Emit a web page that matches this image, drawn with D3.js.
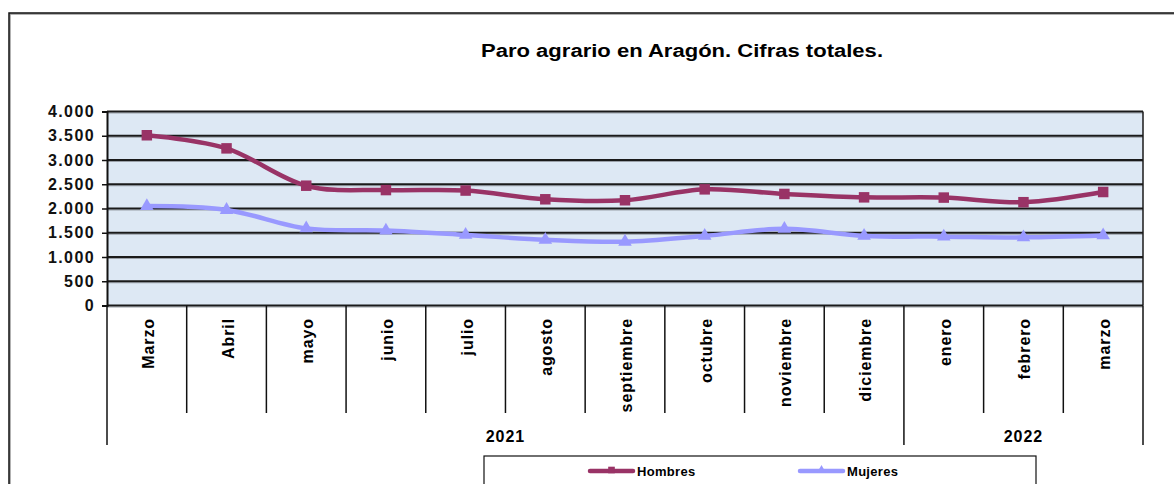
<!DOCTYPE html>
<html>
<head>
<meta charset="utf-8">
<script src="https://cdn.jsdelivr.net/npm/d3@7"></script>
<style>
  body { margin: 0; background: #fff; }
  svg { display: block; font-family: Arial, "Liberation Sans", sans-serif; }
</style>
</head>
<body>
<div id="chart"></div>
<script>
// Data
const months = ["Marzo", "Abril", "mayo", "junio", "julio", "agosto", "septiembre",
  "octubre", "noviembre", "diciembre", "enero", "febrero", "marzo"];
const years = [{ label: "2021", from: 0, to: 10 }, { label: "2022", from: 10, to: 13 }];
const hombres = [3510, 3240, 2470, 2380, 2370, 2190, 2170, 2395, 2300, 2230, 2225, 2130, 2340];
const mujeres = [2050, 1970, 1590, 1545, 1455, 1355, 1315, 1435, 1580, 1435, 1420, 1405, 1445];
const yTicks = [0, 500, 1000, 1500, 2000, 2500, 3000, 3500, 4000];

const width = 1174, height = 484;
const plot = { left: 107, right: 1143, top: 111.5, bottom: 305.5 };

const svg = d3.select("#chart").append("svg")
  .attr("width", width)
  .attr("height", height);

// outer chart frame (with a soft shadow line like the original)
svg.append("rect")
  .attr("x", 10).attr("y", 14)
  .attr("width", 1200).attr("height", 600)
  .attr("fill", "none")
  .attr("stroke", "#999")
  .attr("stroke-width", 1.5);
svg.append("rect")
  .attr("x", 9).attr("y", 13)
  .attr("width", 1200).attr("height", 600)
  .attr("fill", "none")
  .attr("stroke", "#111")
  .attr("stroke-width", 1.5);

// title
svg.append("text")
  .attr("x", 682).attr("y", 57)
  .attr("text-anchor", "middle")
  .attr("font-size", 18).attr("font-weight", "bold")
  .attr("textLength", 402).attr("lengthAdjust", "spacingAndGlyphs")
  .text("Paro agrario en Aragón. Cifras totales.");

const x = d3.scaleBand().domain(d3.range(months.length)).range([plot.left, plot.right]);
const y = d3.scaleLinear().domain([0, 4000]).range([plot.bottom, plot.top]);

// plot background
svg.append("rect")
  .attr("x", plot.left).attr("y", plot.top)
  .attr("width", plot.right - plot.left).attr("height", plot.bottom - plot.top)
  .attr("fill", "#dde8f4");

// gridlines
const grid = svg.append("g");
grid.selectAll("line.shadow")
  .data(yTicks)
  .join("line")
  .attr("class", "shadow")
  .attr("x1", plot.left).attr("x2", plot.right)
  .attr("y1", (d) => y(d) + 1.5).attr("y2", (d) => y(d) + 1.5)
  .attr("stroke", "#9aa0a8")
  .attr("stroke-width", 1);
grid.selectAll("line.grid")
  .data(yTicks)
  .join("line")
  .attr("class", "grid")
  .attr("x1", plot.left).attr("x2", plot.right)
  .attr("y1", (d) => y(d)).attr("y2", (d) => y(d))
  .attr("stroke", "#1a1a1a")
  .attr("stroke-width", 1.8);

// right border of plot
svg.append("line")
  .attr("x1", plot.right).attr("x2", plot.right)
  .attr("y1", plot.top).attr("y2", plot.bottom)
  .attr("stroke", "#1a1a1a").attr("stroke-width", 1.5);

// y axis
const yAxis = svg.append("g")
  .attr("transform", `translate(${plot.left},0)`)
  .call(d3.axisLeft(y).tickValues(yTicks).tickSize(5).tickPadding(7)
    .tickFormat((d) => d3.format(",")(d).replace(/,/g, ".")));
yAxis.select(".domain").attr("stroke", "#111").attr("stroke-width", 2);
yAxis.selectAll(".tick line").attr("stroke", "#111").attr("stroke-width", 1.5);
yAxis.selectAll("text")
  .attr("font-size", 16).attr("font-weight", "bold")
  .attr("letter-spacing", 1.4)
  .attr("font-family", "Arial, 'Liberation Sans', sans-serif")
  .attr("fill", "#111");

// x category separators
const xg = svg.append("g");
const bounds = d3.range(months.length + 1);
const yearEdges = new Set([0].concat(years.map((d) => d.to)));
xg.selectAll("line")
  .data(bounds)
  .join("line")
  .attr("x1", (i) => (i < months.length ? x(i) : plot.right))
  .attr("x2", (i) => (i < months.length ? x(i) : plot.right))
  .attr("y1", plot.bottom)
  .attr("y2", (i) => (yearEdges.has(i) ? 445 : 413))
  .attr("stroke", "#111")
  .attr("stroke-width", 1.5);

// month labels
xg.selectAll("text.month")
  .data(months)
  .join("text")
  .attr("class", "month")
  .attr("transform", (d, i) => `translate(${x(i) + x.bandwidth() / 2 + 7},318) rotate(-90)`)
  .attr("text-anchor", "end")
  .attr("font-size", 16).attr("font-weight", "bold")
  .attr("letter-spacing", 0.9)
  .text((d) => d);

// year labels
xg.selectAll("text.year")
  .data(years)
  .join("text")
  .attr("class", "year")
  .attr("x", (d) => ((d.from === 0 ? plot.left : x(d.from)) + (d.to < months.length ? x(d.to) : plot.right)) / 2)
  .attr("y", 442)
  .attr("text-anchor", "middle")
  .attr("font-size", 16).attr("font-weight", "bold")
  .attr("letter-spacing", 1)
  .text((d) => d.label);

// lines
const line = d3.line()
  .x((d, i) => x(i) + x.bandwidth() / 2)
  .y((d) => y(d))
  .curve(d3.curveCatmullRom.alpha(0));

const series = [
  { name: "Hombres", values: hombres, color: "#993366", marker: d3.symbolSquare, size: 110 },
  { name: "Mujeres", values: mujeres, color: "#9999ff", marker: d3.symbolTriangle, size: 80 }
];

series.forEach((s) => {
  svg.append("path")
    .datum(s.values)
    .attr("d", line)
    .attr("fill", "none")
    .attr("stroke", s.color)
    .attr("stroke-width", 4.5)
    .attr("stroke-linejoin", "round");
  svg.append("g").selectAll("path")
    .data(s.values)
    .join("path")
    .attr("transform", (d, i) => `translate(${x(i) + x.bandwidth() / 2},${y(d)})`)
    .attr("d", d3.symbol().type(s.marker).size(s.size))
    .attr("fill", s.color);
});

// legend
const legend = svg.append("g");
legend.append("rect")
  .attr("x", 484).attr("y", 456)
  .attr("width", 552).attr("height", 60)
  .attr("fill", "#fff")
  .attr("stroke", "#111").attr("stroke-width", 1.2);
const legendX = [590, 800];
series.forEach((s, i) => {
  const lg = legend.append("g").attr("transform", `translate(${legendX[i]},471)`);
  lg.append("line")
    .attr("x1", 0).attr("x2", 43)
    .attr("stroke", s.color).attr("stroke-width", 4.5)
    .attr("stroke-linecap", "round");
  lg.append("path")
    .attr("transform", "translate(21.5,-1)")
    .attr("d", d3.symbol().type(s.marker).size(s.size * 0.4))
    .attr("fill", s.color);
  lg.append("text")
    .attr("x", 47).attr("y", 5)
    .attr("font-size", 13).attr("font-weight", "bold")
    .attr("letter-spacing", 0.3)
    .text(s.name);
});
</script>
</body>
</html>
